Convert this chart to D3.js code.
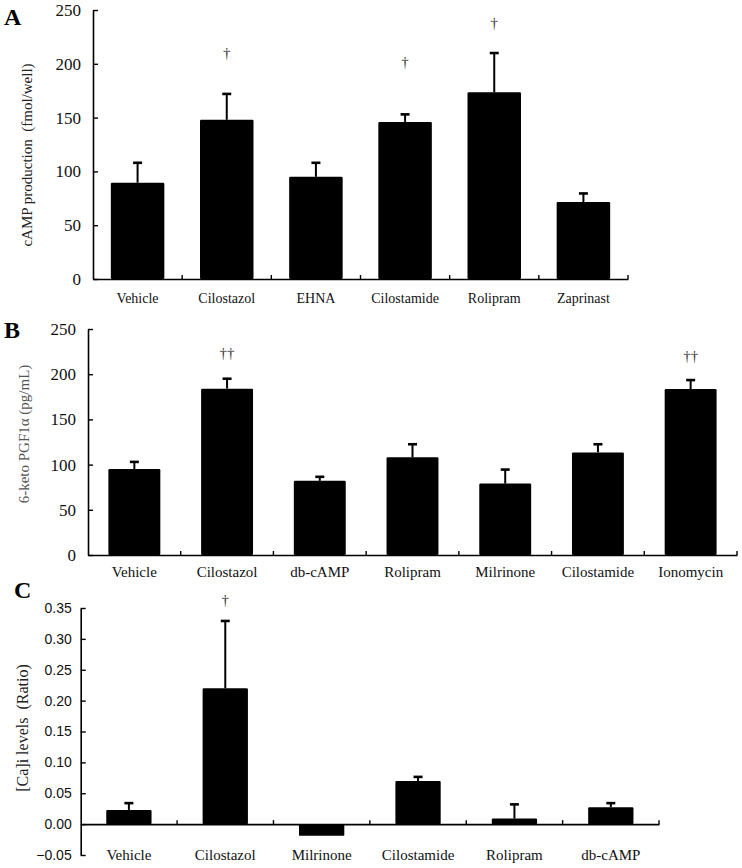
<!DOCTYPE html>
<html>
<head>
<meta charset="utf-8">
<script src="https://cdn.jsdelivr.net/npm/d3@7/dist/d3.min.js"></script>
<style>
  html, body { margin: 0; padding: 0; background: #fff; }
  svg { display: block; }
</style>
</head>
<body>
<svg id="chart" width="742" height="868"></svg>
<script>
// ---------- Panel A: cAMP production ----------
const catsA = ["Vehicle", "Cilostazol", "EHNA", "Cilostamide", "Rolipram", "Zaprinast"];
const valsA = [89.5, 148, 95, 146, 173.5, 71.5];
const errsA = [18.5, 24, 13, 7, 36.5, 8];
const sigA  = ["", "†", "", "†", "†", ""];
const sigAtA = [null, 210, null, 202, 238, null];
const ticksA = [0, 50, 100, 150, 200, 250];

// ---------- Panel B: 6-keto PGF1α ----------
const catsB = ["Vehicle", "Cilostazol", "db-cAMP", "Rolipram", "Milrinone", "Cilostamide", "Ionomycin"];
const valsB = [95, 184, 82, 108, 79, 113.5, 183.5];
const errsB = [8, 11, 4.5, 14.5, 15.5, 9, 10];
const sigB  = ["", "††", "", "", "", "", "††"];
const sigAtB = [null, 223.5, null, null, null, null, 220.5];
const ticksB = [0, 50, 100, 150, 200, 250];

// ---------- Panel C: [Ca]i levels ----------
const catsC = ["Vehicle", "Cilostazol", "Milrinone", "Cilostamide", "Rolipram", "db-cAMP"];
const valsC = [0.023, 0.220, -0.019, 0.070, 0.009, 0.0275];
const errsC = [0.011, 0.109, null, 0.0065, 0.023, 0.0065];
const sigC  = ["", "†", "", "", "", ""];
const sigAtC = [null, 0.364, null, null, null, null];
const ticksC = [-0.05, 0, 0.05, 0.10, 0.15, 0.20, 0.25, 0.30, 0.35];

const svg = d3.select("#chart");
const SERIF = "'Liberation Serif', 'Times New Roman', serif";
const SANS = "'Liberation Sans', Arial, sans-serif";

function panel(cfg) {
  const g = svg.append("g");
  const x = d3.scaleBand().domain(cfg.cats).range(cfg.xRange)
    .paddingInner(cfg.pad).paddingOuter(cfg.pad / 2);
  const y = d3.scaleLinear().domain(cfg.yDomain).range(cfg.yRange);
  const y0 = y(0);

  // y axis
  const yAx = d3.axisLeft(y).tickValues(cfg.ticks).tickSizeInner(-5).tickSizeOuter(0)
    .tickPadding(cfg.yPad).tickFormat(cfg.fmt);
  const ya = g.append("g").attr("transform", `translate(${cfg.xRange[0]},0)`).call(yAx);
  ya.select(".domain").attr("stroke", "#000").attr("stroke-width", 1.6);
  ya.selectAll(".tick line").attr("stroke", "#000").attr("stroke-width", 1.4);
  ya.selectAll("text").attr("font-family", cfg.tickFont).attr("font-size", cfg.tickSize).attr("fill", "#111");

  // bars
  g.selectAll("rect.bar").data(cfg.cats).enter().append("rect")
    .attr("class", "bar")
    .attr("x", d => x(d))
    .attr("width", x.bandwidth())
    .attr("y", (d, i) => Math.min(y(cfg.vals[i]), y0))
    .attr("height", (d, i) => Math.abs(y(cfg.vals[i]) - y0))
    .attr("rx", 1.2)
    .attr("fill", "#000");

  // error bars (upper)
  cfg.cats.forEach((c, i) => {
    const e = cfg.errs[i];
    if (e == null) return;
    const cx = x(c) + x.bandwidth() / 2;
    const yt = y(cfg.vals[i] + e);
    g.append("line").attr("x1", cx).attr("x2", cx)
      .attr("y1", y(cfg.vals[i])).attr("y2", yt)
      .attr("stroke", "#000").attr("stroke-width", 2);
    g.append("line").attr("x1", cx - 4.5).attr("x2", cx + 4.5)
      .attr("y1", yt).attr("y2", yt)
      .attr("stroke", "#000").attr("stroke-width", 2.6);
  });

  // significance marks
  cfg.cats.forEach((c, i) => {
    if (!cfg.sig[i]) return;
    g.append("text")
      .attr("x", x(c) + x.bandwidth() / 2)
      .attr("y", y(cfg.sigAt[i]))
      .attr("dy", "0.35em")
      .attr("text-anchor", "middle")
      .attr("font-family", SERIF)
      .attr("font-size", 15)
      .attr("fill", "#333")
      .text(cfg.sig[i]);
  });

  // x axis line (at zero)
  const xAx = d3.axisBottom(x).tickSize(0).tickSizeOuter(0).tickPadding(cfg.xPad);
  const xa = g.append("g").attr("transform", `translate(0,${y0})`).call(xAx);
  xa.select(".domain").attr("stroke", "#000").attr("stroke-width", 1.6);
  xa.selectAll("text").attr("font-family", SERIF).attr("font-size", cfg.labSize).attr("fill", "#111");
  // boundary ticks (pointing up)
  const bounds = d3.range(1, cfg.cats.length + 1).map(k => cfg.xRange[0] + k * x.step());
  xa.selectAll("line.bt").data(bounds).enter().append("line")
    .attr("class", "bt")
    .attr("x1", d => d).attr("x2", d => d)
    .attr("y1", 0).attr("y2", -4)
    .attr("stroke", "#000").attr("stroke-width", 1.4);

  // y title
  g.append("text")
    .attr("transform", `translate(${cfg.titleX},${cfg.titleY}) rotate(-90)`)
    .attr("text-anchor", "middle")
    .attr("font-family", SERIF)
    .attr("font-size", cfg.titleSize)
    .attr("fill", cfg.titleColor)
    .style("white-space", "pre")
    .text(cfg.title);

  // panel letter
  g.append("text")
    .attr("x", cfg.letterX).attr("y", cfg.letterY)
    .attr("font-family", SERIF).attr("font-weight", "bold")
    .attr("font-size", 24).attr("fill", "#000")
    .text(cfg.letter);
}

panel({
  cats: catsA, vals: valsA, errs: errsA, sig: sigA, sigAt: sigAtA, ticks: ticksA,
  xRange: [93, 628], yDomain: [0, 250], yRange: [279, 10], pad: 0.4,
  yPad: 12, xPad: 14, fmt: d3.format("d"), tickFont: SERIF, tickSize: 17, labSize: 14,
  title: "cAMP production  (fmol/well)", titleX: 32, titleY: 155, titleSize: 15, titleColor: "#222",
  letter: "A", letterX: 4, letterY: 25
});

panel({
  cats: catsB, vals: valsB, errs: errsB, sig: sigB, sigAt: sigAtB, ticks: ticksB,
  xRange: [88, 737], yDomain: [0, 250], yRange: [555, 329], pad: 0.44,
  yPad: 12, xPad: 11, fmt: d3.format("d"), tickFont: SERIF, tickSize: 17, labSize: 15,
  title: "6-keto PGF1α (pg/mL)", titleX: 29, titleY: 434, titleSize: 15, titleColor: "#555",
  letter: "B", letterX: 4, letterY: 338
});

panel({
  cats: catsC, vals: valsC, errs: errsC, sig: sigC, sigAt: sigAtC, ticks: ticksC,
  xRange: [80.7, 659], yDomain: [-0.05, 0.35], yRange: [855, 608], pad: 0.53,
  yPad: 9, xPad: 25, fmt: d3.format(".2f"), tickFont: SANS, tickSize: 14, labSize: 15,
  title: "[Ca]i levels  (Ratio)", titleX: 28, titleY: 728, titleSize: 16, titleColor: "#222",
  letter: "C", letterX: 14, letterY: 598
});
</script>
</body>
</html>
